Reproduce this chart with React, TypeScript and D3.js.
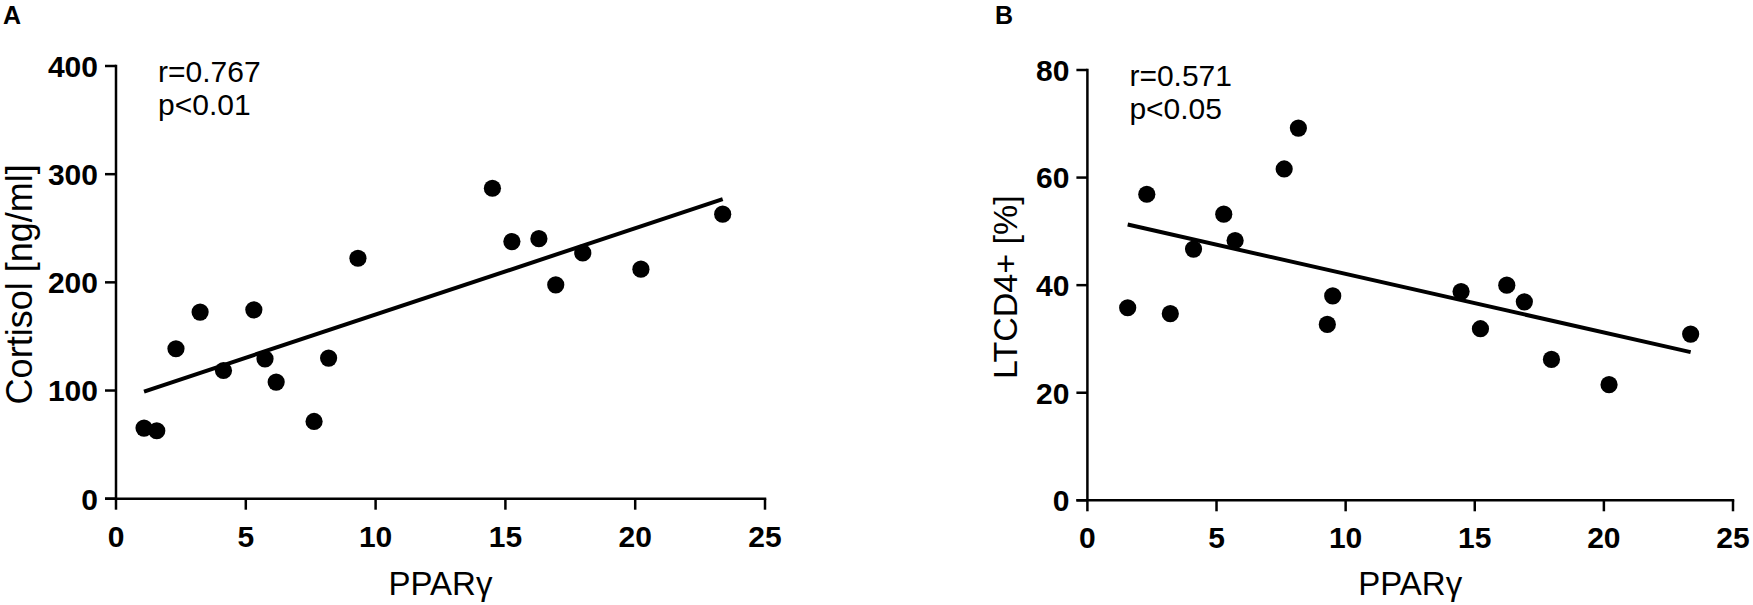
import React from "react";
import * as d3 from "d3";

// ---- Data ----
const pparA = [1.08, 1.57, 2.31, 3.24, 4.14, 5.31, 5.74, 6.17, 7.63, 8.19, 9.32, 14.5, 15.25, 16.29, 16.94, 17.98, 20.22, 23.37];
const cortisol = [65.3, 62.8, 138.6, 172.5, 118.5, 174.6, 129.3, 107.8, 71.4, 130, 222.3, 287, 237.7, 240.4, 197.7, 227.2, 212.2, 263];

const pparB = [1.56, 2.3, 3.21, 4.11, 5.28, 5.72, 7.62, 8.17, 9.29, 9.5, 14.47, 15.22, 16.24, 16.92, 17.97, 20.2, 23.36];
const ltcd4 = [35.8, 56.9, 34.7, 46.7, 53.2, 48.3, 61.6, 69.2, 32.7, 38.0, 38.8, 31.9, 40.0, 36.9, 26.2, 21.5, 30.9];

const xTicks = [0, 5, 10, 15, 20, 25];
const yTicksA = [0, 100, 200, 300, 400];
const yTicksB = [0, 20, 40, 60, 80];

const statsA = ["r=0.767", "p<0.01"];
const statsB = ["r=0.571", "p<0.05"];

const FONT = "'Liberation Sans', Arial, Helvetica, sans-serif";

function regression(xs: number[], ys: number[]) {
  const mx = d3.mean(xs) as number;
  const my = d3.mean(ys) as number;
  let sxy = 0;
  let sxx = 0;
  xs.forEach((x, i) => {
    sxy += (x - mx) * (ys[i] - my);
    sxx += (x - mx) * (x - mx);
  });
  const slope = sxy / sxx;
  return { slope, intercept: my - slope * mx };
}

type PanelProps = {
  letter: string;
  letterX: number;
  xs: number[];
  ys: number[];
  yTicks: number[];
  yMax: number;
  xRange: [number, number];
  yRange: [number, number];
  yTitle: string;
  yTitleX: number;
  yTitleSize: number;
  stats: string[];
};

function Panel(p: PanelProps) {
  const x = d3.scaleLinear().domain([0, 25]).range(p.xRange);
  const y = d3.scaleLinear().domain([0, p.yMax]).range(p.yRange);
  const reg = regression(p.xs, p.ys);
  const [x0, x1] = d3.extent(p.xs) as [number, number];
  const line = d3.line<number>().x((d) => x(d)).y((d) => y(reg.intercept + reg.slope * d));
  const axX = p.xRange[0];
  const axY = p.yRange[0];
  const tick = 11;
  const sw = 2.5;
  return (
    <g fontFamily={FONT} fill="#000">
      <text x={p.letterX} y={24} fontSize={25} fontWeight="bold">{p.letter}</text>
      {/* y axis */}
      <line x1={axX} x2={axX} y1={y(p.yMax) - sw / 2} y2={axY} stroke="#000" strokeWidth={sw} />
      {p.yTicks.map((t) => (
        <g key={"y" + t}>
          <line x1={axX - tick} x2={axX} y1={y(t)} y2={y(t)} stroke="#000" strokeWidth={sw} />
          <text x={axX - 18} y={y(t)} dy="0.36em" textAnchor="end" fontSize={30} fontWeight="bold">
            {t}
          </text>
        </g>
      ))}
      {/* x axis */}
      <line x1={axX - tick} x2={x(25) + sw / 2} y1={axY} y2={axY} stroke="#000" strokeWidth={sw} />
      {xTicks.map((t) => (
        <g key={"x" + t}>
          <line x1={x(t)} x2={x(t)} y1={axY} y2={axY + tick} stroke="#000" strokeWidth={sw} />
          <text x={x(t)} y={axY + 48} textAnchor="middle" fontSize={30} fontWeight="bold">
            {t}
          </text>
        </g>
      ))}
      {/* titles */}
      <text x={(p.xRange[0] + p.xRange[1]) / 2} y={595} textAnchor="middle" fontSize={33}>
        PPARγ
      </text>
      <text
        transform={`translate(${p.yTitleX},${(p.yRange[0] + p.yRange[1]) / 2 + 2}) rotate(-90)`}
        textAnchor="middle"
        fontSize={p.yTitleSize}
      >
        {p.yTitle}
      </text>
      {/* stats */}
      {p.stats.map((s, i) => (
        <text key={s} x={axX + 42} y={p.yRange[1] + 16 + i * 33} fontSize={30}>
          {s}
        </text>
      ))}
      {/* regression line */}
      <path d={line([x0, x1]) as string} stroke="#000" strokeWidth={4} fill="none" />
      {/* points */}
      {p.xs.map((v, i) => (
        <circle key={i} cx={x(v)} cy={y(p.ys[i])} r={8.6} fill="#000" />
      ))}
    </g>
  );
}

export default function App() {
  return (
    <svg
      width={1753}
      height={605}
      style={{ position: "absolute", left: 0, top: 0, background: "#fff" }}
    >
      <rect width={1753} height={605} fill="#fff" />
      <Panel
        letter="A"
        letterX={3}
        xs={pparA}
        ys={cortisol}
        yTicks={yTicksA}
        yMax={400}
        xRange={[116, 765]}
        yRange={[498.7, 66]}
        yTitle="Cortisol [ng/ml]"
        yTitleX={32}
        yTitleSize={36}
        stats={statsA}
      />
      <Panel
        letter="B"
        letterX={995}
        xs={pparB}
        ys={ltcd4}
        yTicks={yTicksB}
        yMax={80}
        xRange={[1087.4, 1733]}
        yRange={[500.3, 70]}
        yTitle="LTCD4+ [%]"
        yTitleX={1017}
        yTitleSize={34}
        stats={statsB}
      />
    </svg>
  );
}
